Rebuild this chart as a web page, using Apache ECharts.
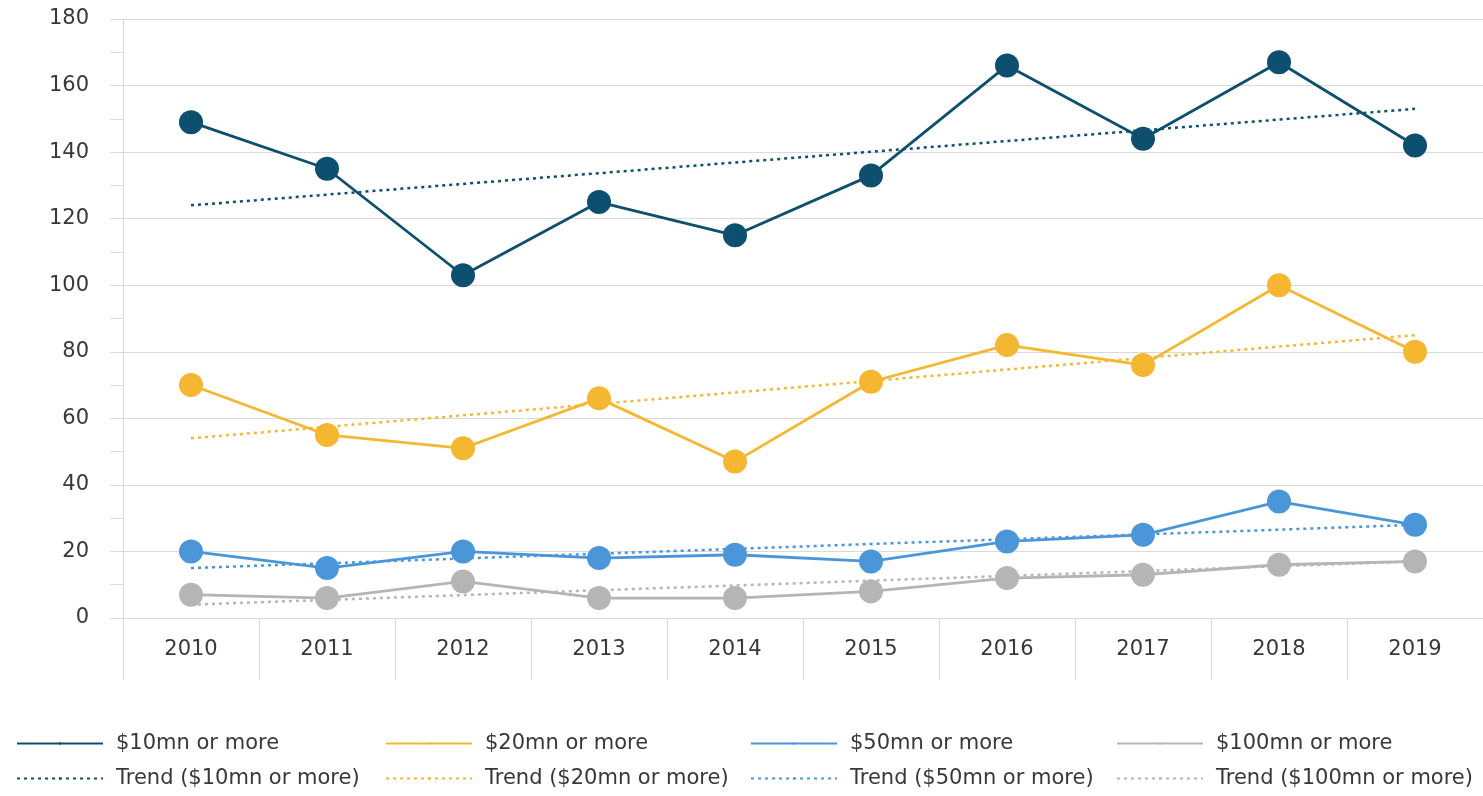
<!DOCTYPE html>
<html>
<head>
<meta charset="utf-8">
<script src="https://cdn.jsdelivr.net/npm/echarts@6/dist/echarts.min.js"></script>
<style>
  html, body { margin: 0; padding: 0; background: #fff; }
  #chart { width: 1483px; height: 796px; }
</style>
</head>
<body>
<div id="chart"></div>
<script>
const years = ['2010', '2011', '2012', '2013', '2014', '2015', '2016', '2017', '2018', '2019'];

const over10 = [149, 135, 103, 125, 115, 133, 166, 144, 167, 142];
const over20 = [70, 55, 51, 66, 47, 71, 82, 76, 100, 80];
const over50 = [20, 15, 20, 18, 19, 17, 23, 25, 35, 28];
const over100 = [7, 6, 11, 6, 6, 8, 12, 13, 16, 17];

// trend lines: value at the first and last year
const trend10 = [124, 153];
const trend20 = [54, 85];
const trend50 = [15, 28];
const trend100 = [4, 17];

const colors = {
  c10: '#0d4f6e',
  c20: '#f5b731',
  c50: '#4a96d8',
  c100: '#b5b5b5'
};

const font = 'DejaVu Sans';

const chart = echarts.init(document.getElementById('chart'));

function endpoints(pair) {
  return years.map((y, i) => i === 0 ? pair[0] : (i === years.length - 1 ? pair[1] : null));
}

function mainSeries(name, data, color) {
  return {
    name, type: 'line', data,
    symbol: 'circle', symbolSize: 24,
    lineStyle: { color, width: 2.8 },
    itemStyle: { color },
    z: 3
  };
}

function trendSeries(name, pair, color) {
  return {
    name, type: 'line', data: endpoints(pair),
    connectNulls: true, showSymbol: false, symbol: 'none',
    lineStyle: { color, width: 2.5, type: [3, 4] },
    itemStyle: { color },
    z: 2
  };
}

const legendBase = {
  orient: 'vertical',
  top: 728,
  itemWidth: 86,
  itemHeight: 3,
  itemGap: 14,
  textStyle: { fontSize: 21, color: '#383838', fontFamily: font, padding: [0, 0, 0, 8] },
  selectedMode: false
};

chart.setOption({
  animation: false,
  textStyle: { fontFamily: font },
  grid: { left: 123, right: -11, top: 19, bottom: 178, containLabel: false },
  legend: [
    Object.assign({}, legendBase, { left: 11, data: ['$10mn or more', 'Trend ($10mn or more)'] }),
    Object.assign({}, legendBase, { left: 380, data: ['$20mn or more', 'Trend ($20mn or more)'] }),
    Object.assign({}, legendBase, { left: 745, data: ['$50mn or more', 'Trend ($50mn or more)'] }),
    Object.assign({}, legendBase, { left: 1111, data: ['$100mn or more', 'Trend ($100mn or more)'] })
  ],
  xAxis: {
    type: 'category',
    data: years,
    boundaryGap: true,
    axisLine: { show: true, lineStyle: { color: '#dadada', width: 1 } },
    axisTick: { show: true, interval: 0, alignWithLabel: false, length: 62, lineStyle: { color: '#dadada' } },
    axisLabel: { fontSize: 21, color: '#383838', fontFamily: font, margin: 21 }
  },
  yAxis: {
    type: 'value',
    min: 0, max: 180, interval: 20,
    axisLine: { show: true, lineStyle: { color: '#dadada' } },
    axisTick: { show: true, length: 13, lineStyle: { color: '#dadada' } },
    minorTick: { show: true, splitNumber: 2, length: 13, lineStyle: { color: '#dadada' } },
    splitLine: { show: true, lineStyle: { color: '#dadada', width: 1 } },
    axisLabel: { fontSize: 21, color: '#383838', fontFamily: font, margin: 34 }
  },
  series: [
    trendSeries('Trend ($100mn or more)', trend100, colors.c100),
    trendSeries('Trend ($50mn or more)', trend50, colors.c50),
    trendSeries('Trend ($20mn or more)', trend20, colors.c20),
    trendSeries('Trend ($10mn or more)', trend10, colors.c10),
    mainSeries('$100mn or more', over100, colors.c100),
    mainSeries('$50mn or more', over50, colors.c50),
    mainSeries('$20mn or more', over20, colors.c20),
    mainSeries('$10mn or more', over10, colors.c10)
  ]
});
</script>
</body>
</html>
